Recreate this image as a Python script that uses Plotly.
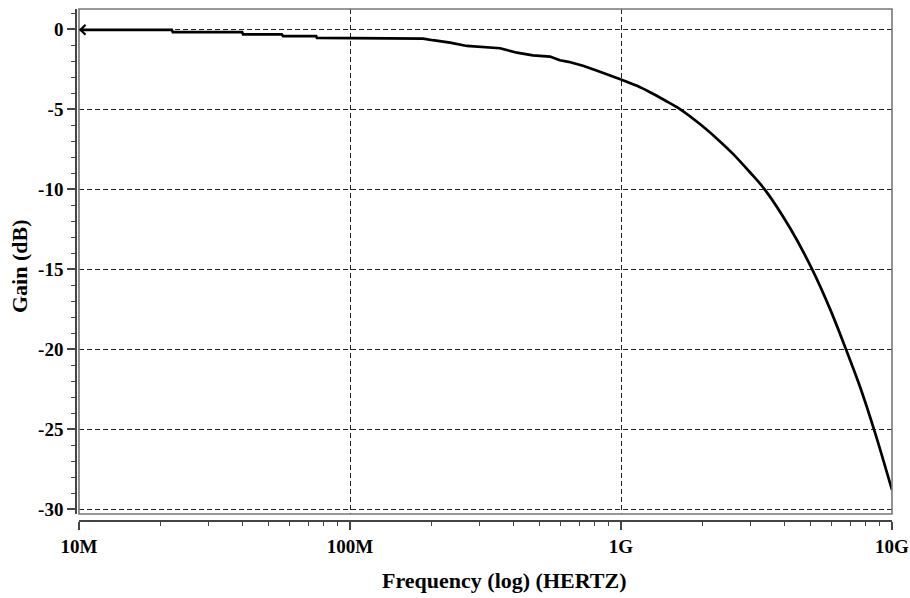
import plotly.graph_objects as go

# ---- data ----
# flat / stair-stepped part of the response
freq_low_hz = [10e6, 22e6, 22.2e6, 40e6, 40.3e6, 56e6, 56.6e6, 75e6, 75.5e6,
               186e6, 202e6, 234e6, 270e6, 358e6, 413e6, 473e6, 547e6, 595e6,
               640e6, 724e6, 836e6, 1e9]
gain_low_db = [-0.05, -0.05, -0.2, -0.2, -0.33, -0.33, -0.44, -0.44, -0.56,
               -0.6, -0.7, -0.85, -1.06, -1.2, -1.48, -1.65, -1.72, -1.95,
               -2.05, -2.3, -2.67, -3.15]
# smooth roll-off part
freq_high_hz = [1e9, 1.146e9, 1.28e9, 1.45e9, 1.65e9, 1.96e9, 2.26e9, 2.59e9,
                2.99e9, 3.40e9, 4.21e9, 5.07e9, 5.91e9, 6.76e9, 7.62e9, 8.65e9,
                10e9]
gain_high_db = [-3.15, -3.55, -3.95, -4.45, -5.0, -5.95, -6.85, -7.8,
                -8.95, -10.05, -12.45, -15.0, -17.5, -20.0, -22.35, -25.2,
                -28.8]

x_tickvals = [1e7, 1e8, 1e9, 1e10]
x_ticktext = ["10M", "100M", "1G", "10G"]
y_tickvals = [0, -5, -10, -15, -20, -25, -30]
y_ticktext = ["0", "-5", "-10", "-15", "-20", "-25", "-30"]

x_title = "Frequency (log) (HERTZ)"
y_title = "Gain (dB)"

# ---- layout geometry (body margin removed by post_script) ----
W, H = 910, 598
ML, MR, MT, MB = 60, 18, 9, 70
PW = W - ML - MR
PH = H - MT - MB

def px_x(p):  # p = screen pixel
    return (p - ML) / PW

def px_y(p):
    return (H - MB - p) / PH

FONT = "Liberation Serif, Times New Roman, serif"

fig = go.Figure()
fig.add_trace(go.Scatter(
    x=freq_low_hz, y=gain_low_db, mode="lines",
    line=dict(color="black", width=2.7),
    showlegend=False, hoverinfo="skip",
))
fig.add_trace(go.Scatter(
    x=freq_high_hz, y=gain_high_db, mode="lines",
    line=dict(color="black", width=2.7, shape="spline", smoothing=1.0),
    showlegend=False, hoverinfo="skip",
))

fig.update_layout(
    width=W, height=H,
    margin=dict(l=ML, r=MR, t=MT, b=MB),
    paper_bgcolor="white", plot_bgcolor="white",
    showlegend=False,
    xaxis=dict(
        type="log", range=[7, 10],
        domain=[px_x(79), px_x(892)],
        anchor="free", position=px_y(521),
        tickvals=x_tickvals, ticktext=x_ticktext,
        ticks="outside", ticklen=8, tickwidth=1.5, tickcolor="#444",
        showline=True, linecolor="#444", linewidth=1.5,
        showgrid=True, gridcolor="#222", gridwidth=1.3, griddash="5px,3px",
        zeroline=False,
        minor=dict(ticks="outside", ticklen=4, tickwidth=1.2, tickcolor="#444",
                   dtick="D1", showgrid=False),
        tickfont=dict(family=FONT, size=19, color="black", weight="bold"),
        automargin=False,
    ),
    yaxis=dict(
        range=[-30.3, 1.25],
        domain=[px_y(514), px_y(9)],
        anchor="free", position=px_x(76),
        tickvals=y_tickvals, ticktext=y_ticktext,
        ticks="outside", ticklen=8, tickwidth=1.5, tickcolor="#444",
        showline=True, linecolor="#444", linewidth=1.5,
        showgrid=True, gridcolor="#222", gridwidth=1.3, griddash="5px,3px",
        zeroline=False,
        minor=dict(ticks="outside", ticklen=4, tickwidth=1.2, tickcolor="#444",
                   dtick=1, showgrid=False),
        tickfont=dict(family=FONT, size=19, color="black", weight="bold"),
        automargin=False,
    ),
    shapes=[dict(type="rect", xref="x domain", yref="y domain",
                 x0=0, x1=1, y0=0, y1=1,
                 line=dict(color="#777", width=1.6), fillcolor="rgba(0,0,0,0)",
                 layer="above")],
    annotations=[
        dict(text=x_title, xref="paper", yref="paper",
             x=px_x(504), y=px_y(580), xanchor="center", yanchor="middle",
             showarrow=False,
             font=dict(family=FONT, size=22, color="black", weight="bold")),
        dict(text=y_title, xref="paper", yref="paper",
             x=px_x(19), y=px_y(266), xanchor="center", yanchor="middle",
             textangle=-90, showarrow=False,
             font=dict(family=FONT, size=22, color="black", weight="bold")),
        dict(text="", xref="x", yref="y", x=7, y=gain_low_db[0],
             showarrow=True, ax=22, ay=0, arrowhead=4, arrowsize=1.2,
             arrowwidth=1.6, arrowcolor="black", standoff=0),
    ],
)

fig.write_html(
    "out.html",
    config={"displayModeBar": False},
    post_script="document.body.style.margin='0';document.body.style.overflow='hidden';",
)
